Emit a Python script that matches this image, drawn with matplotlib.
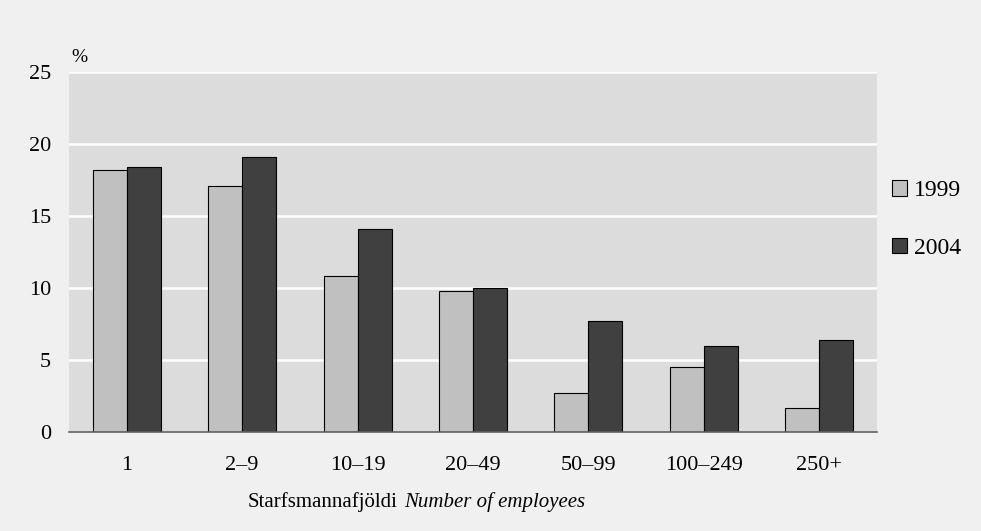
import matplotlib
matplotlib.use("Agg")
import matplotlib.pyplot as plt
import numpy as np

categories = ["1", "2–9", "10–19", "20–49", "50–99", "100–249", "250+"]
values_1999 = [18.2, 17.1, 10.8, 9.8, 2.7, 4.5, 1.7]
values_2004 = [18.4, 19.1, 14.1, 10.0, 7.7, 6.0, 6.4]
series_names = ["1999", "2004"]
yticks = [0, 5, 10, 15, 20, 25]

plt.rcParams['font.family'] = ['Liberation Serif', 'DejaVu Serif']
FS = 16

fig = plt.figure(figsize=(9.81, 5.31), dpi=100, facecolor="#f0f0f0")
W, H = 981, 531
ax = fig.add_axes([69 / W, 1 - 432 / H, (877 - 69) / W, (432 - 72) / H])
ax.set_facecolor("#dcdcdc")

x = np.arange(len(categories))
bw = 0.295
ax.bar(x - bw / 2, values_1999, bw, color="#c0c0c0", edgecolor="#000000", linewidth=0.8,
       label=series_names[0], zorder=3)
ax.bar(x + bw / 2, values_2004, bw, color="#404040", edgecolor="#000000", linewidth=0.8,
       label=series_names[1], zorder=3)

ax.set_xlim(-0.5, len(categories) - 0.5)
ax.set_ylim(0, 25)
ax.set_yticks(yticks)
ax.set_yticklabels([str(t) for t in yticks], fontsize=FS)
ax.set_xticks(x)
ax.set_xticklabels(categories, fontsize=FS)
ax.tick_params(axis='both', length=0)
ax.tick_params(axis='y', pad=13)
ax.tick_params(axis='x', pad=17)
ax.yaxis.grid(True, color="white", linewidth=1.8, zorder=1)
ax.set_axisbelow(True)
for s in ["top", "right", "left"]:
    ax.spines[s].set_visible(False)
ax.spines["bottom"].set_color("#606060")
ax.spines["bottom"].set_linewidth(1.2)
ax.spines["bottom"].set_zorder(4)

fig.text(71 / W, 1 - 57 / H, "%", fontsize=FS - 2, ha="left", va="center")
fig.text(248 / W, 1 - 502 / H, "Starfsmannafjöldi", fontsize=15, ha="left", va="center")
fig.text(404 / W, 1 - 502 / H, "Number of employees", fontsize=15, ha="left", va="center",
         style="italic")

leg = ax.legend(loc="upper left", bbox_to_anchor=(883 / W, 1 - 171 / H),
                bbox_transform=fig.transFigure, frameon=False, fontsize=FS + 1,
                handlelength=0.62, handleheight=0.62, handletextpad=0.3,
                labelspacing=1.55, borderaxespad=0)
for p in leg.get_patches():
    p.set_linewidth(0.8)

fig.savefig("out.png", dpi=100, facecolor=fig.get_facecolor())
